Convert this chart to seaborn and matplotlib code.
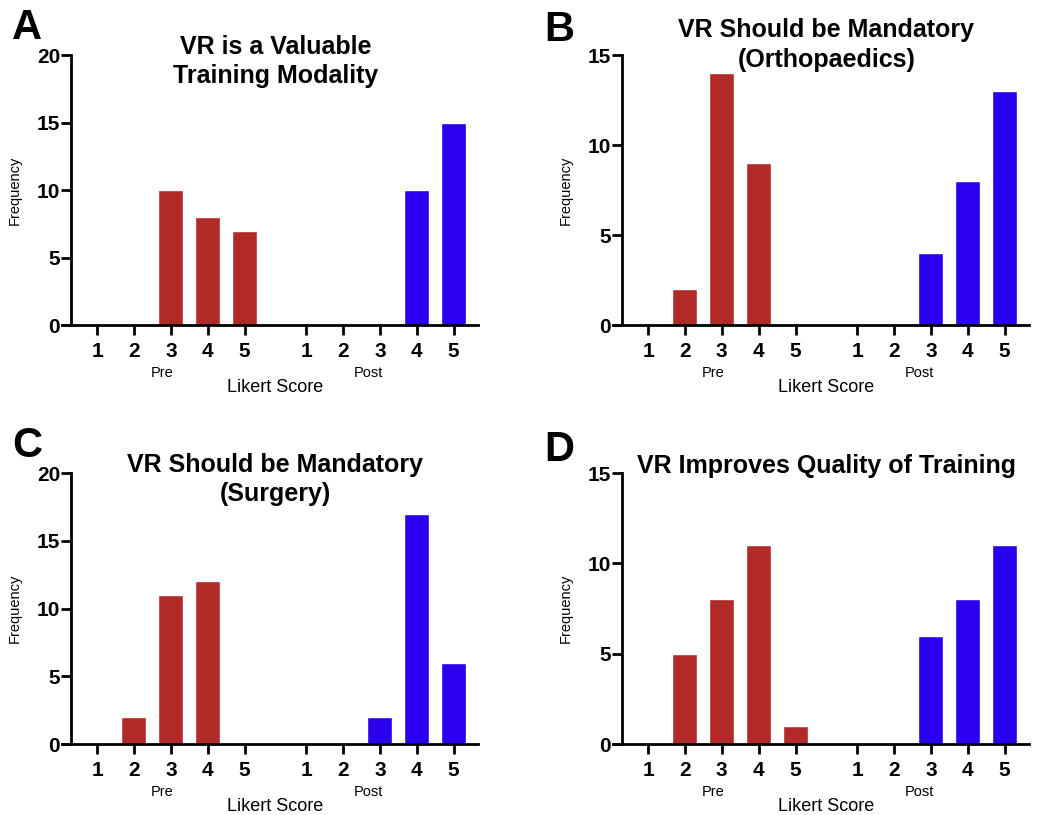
import numpy as np
import pandas as pd
import seaborn as sns
import matplotlib
matplotlib.use('Agg')
import matplotlib.pyplot as plt

# donnees (frequences pour les scores Likert 1..5)
scores = [1, 2, 3, 4, 5]
titles = ['VR is a Valuable\nTraining Modality',
          'VR Should be Mandatory\n(Orthopaedics)',
          'VR Should be Mandatory\n(Surgery)',
          'VR Improves Quality of Training']
letters = ['A', 'B', 'C', 'D']
pre_a = [0, 0, 10, 8, 7]
post_a = [0, 0, 0, 10, 15]
pre_b = [0, 2, 14, 9, 0]
post_b = [0, 0, 4, 8, 13]
pre_c = [0, 2, 11, 12, 0]
post_c = [0, 0, 2, 17, 6]
pre_d = [0, 5, 8, 11, 1]
post_d = [0, 0, 6, 8, 11]
ymax = [20, 15, 20, 15]

red = '#B22A27'
blue = '#2A00EE'

sns.set_style('ticks')
plt.rcParams['font.family'] = ['Liberation Sans', 'DejaVu Sans']
plt.rcParams['text.color'] = 'black'
plt.rcParams['axes.edgecolor'] = 'black'
plt.rcParams['axes.labelcolor'] = 'black'
plt.rcParams['xtick.color'] = 'black'
plt.rcParams['ytick.color'] = 'black'

fig = plt.figure(figsize=(10.37, 8.15), dpi=100)

# positions des axes (fraction de la figure)
boxes = [[0.0598, 0.6012, 0.4012, 0.3313],
         [0.5911, 0.6012, 0.4012, 0.3313],
         [0.0598, 0.0871, 0.4012, 0.3325],
         [0.5911, 0.0871, 0.4012, 0.3325]]
title_y = [0.975, 1.037, 0.975, 1.025]
letter_xy = [(12, 8), (544, 10), (12, 426), (544, 430)]

pre_pos = [0, 1, 2, 3, 4]
post_pos = [5.67, 6.67, 7.67, 8.67, 9.67]

data = [(pre_a, post_a), (pre_b, post_b), (pre_c, post_c), (pre_d, post_d)]

for i, (pre, post) in enumerate(data):
    ax = fig.add_axes(boxes[i])
    df = pd.DataFrame({'pos': pre_pos + post_pos,
                       'freq': pre + post,
                       'phase': ['Pre'] * 5 + ['Post'] * 5})
    sns.barplot(data=df, x='pos', y='freq', hue='phase',
                palette={'Pre': red, 'Post': blue}, native_scale=True,
                dodge=False, width=0.68, saturation=1, errorbar=None,
                legend=False, ax=ax)

    ax.set_xlim(-0.95, 10.33)
    ax.set_ylim(0, ymax[i])
    ax.set_yticks(np.arange(0, ymax[i] + 1, 5))
    ax.set_xticks(pre_pos + post_pos)
    ax.set_xticklabels(scores + scores)

    ax.spines['top'].set_visible(False)
    ax.spines['right'].set_visible(False)
    ax.spines['left'].set_position(('data', -0.7))
    ax.spines['left'].set_linewidth(2)
    ax.spines['bottom'].set_linewidth(2)
    ax.tick_params(axis='both', width=2, length=7, labelsize=15)
    ax.tick_params(axis='x', pad=5)
    ax.tick_params(axis='y', pad=1)
    for lab in ax.get_xticklabels() + ax.get_yticklabels():
        lab.set_fontweight('bold')

    ax.set_xlabel('')
    ax.set_ylabel('Frequency', fontsize=10.5)
    ax.yaxis.set_label_coords(-0.096, 0.5)

    ax.text(0.24, -0.178, 'Pre', transform=ax.transAxes, ha='center', va='center', fontsize=10.5)
    ax.text(0.736, -0.178, 'Post', transform=ax.transAxes, ha='center', va='center', fontsize=10.5)
    ax.text(0.512, -0.232, 'Likert Score', transform=ax.transAxes, ha='center', va='center', fontsize=13)

    ax.text(0.513, title_y[i], titles[i], transform=ax.transAxes, ha='center', va='center',
            fontsize=18, fontweight='bold', linespacing=1.27)

    lx, ly = letter_xy[i]
    fig.text(lx / 1037, 1 - ly / 815, letters[i], ha='left', va='top', fontsize=30, fontweight='bold')

plt.savefig('out.png', dpi=100)
